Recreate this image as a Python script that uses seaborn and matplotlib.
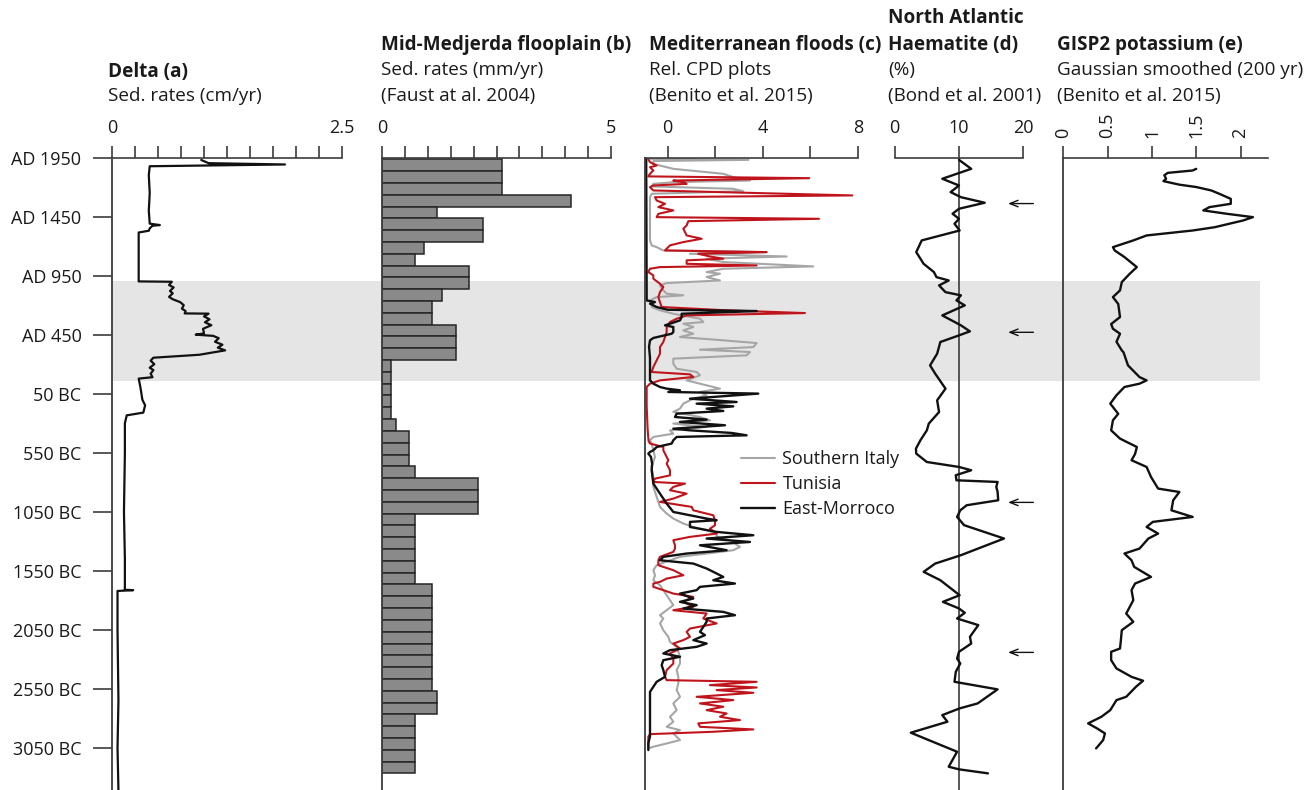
import numpy as np
import pandas as pd
import matplotlib
matplotlib.use("Agg")
import matplotlib.pyplot as plt
import seaborn as sns

sns.set_style("ticks")
plt.rcParams["font.family"] = ["Open Sans", "DejaVu Sans"]
plt.rcParams["font.size"] = 13
plt.rcParams["text.color"] = "#1a1a1a"
plt.rcParams["xtick.color"] = "#1a1a1a"
plt.rcParams["ytick.color"] = "#1a1a1a"

# ---------------------------------------------------------------------------
# Shared age axis (years before AD 1950)
age_ticks = [0, 500, 1000, 1500, 2000, 2500, 3000, 3500, 4000, 4500, 5000]
age_labels = ["AD 1950", "AD 1450", "AD 950", "AD 450", "50 BC", "550 BC",
              "1050 BC", "1550 BC", "2050 BC", "2550 BC", "3050 BC"]
age_max = 5355
band_ages = (1045, 1890)

# (a) Delta sedimentation rates (cm/yr)
delta_age = [21, 48, 59, 74, 150, 300, 450, 560, 572, 578, 600, 620, 635, 800,
             1049, 1052, 1080, 1100, 1130, 1150, 1180, 1200, 1224, 1250, 1280,
             1300, 1320, 1322, 1345, 1370, 1395, 1420, 1450, 1490, 1500, 1510,
             1530, 1560, 1585, 1610, 1633, 1650, 1670, 1695, 1720, 1750, 1780,
             1800, 1830, 1860, 1872, 1950, 2050, 2098, 2160, 2183, 2250, 2500,
             3000, 3400, 3660, 3663, 3670, 4000, 4600, 5000, 5355]
delta_rate = [0.97, 1.05, 1.88, 0.41, 0.40, 0.41, 0.40, 0.41, 0.52, 0.44, 0.41,
              0.40, 0.29, 0.29, 0.29, 0.65, 0.62, 0.67, 0.63, 0.66, 0.62, 0.66,
              0.74, 0.78, 0.76, 0.80, 0.79, 1.05, 1.00, 1.06, 1.01, 1.08, 0.99,
              1.00, 0.91, 1.10, 1.16, 1.12, 1.20, 1.15, 1.23, 1.10, 0.95, 0.45,
              0.42, 0.46, 0.41, 0.45, 0.42, 0.44, 0.29, 0.31, 0.33, 0.36, 0.34,
              0.16, 0.14, 0.14, 0.13, 0.14, 0.14, 0.23, 0.06, 0.06, 0.07, 0.06,
              0.07]

# (b) Mid-Medjerda floodplain sedimentation rates (mm/yr), 100-yr bins
medjerda_age = np.arange(65, 5265, 100)
medjerda_rate = [2.61, 2.61, 2.61, 4.13, 1.20, 2.20, 2.20, 0.91, 0.71, 1.91,
                 1.91, 1.30, 1.09, 1.09, 1.61, 1.61, 1.61, 0.19, 0.19, 0.19,
                 0.19, 0.19, 0.31, 0.60, 0.60, 0.60, 0.71, 2.10, 2.10, 2.10,
                 0.71, 0.71, 0.71, 0.71, 0.71, 0.71, 1.09, 1.09, 1.09, 1.09,
                 1.09, 1.09, 1.09, 1.09, 1.09, 1.19, 1.19, 0.71, 0.71, 0.71,
                 0.71, 0.71]

# (c) Mediterranean floods, relative CPD
italy_age = [11, 20, 30, 54, 96, 138, 166, 195, 209, 223, 245, 265, 285, 307,
             336, 500, 700, 744, 759, 787, 801, 815, 838, 857, 885, 922, 942,
             970, 984, 1012, 1041, 1063, 1083, 1125, 1153, 1167, 1182, 1210,
             1238, 1266, 1294, 1323, 1365, 1393, 1407, 1435, 1464, 1492, 1520,
             1548, 1571, 1605, 1627, 1647, 1675, 1703, 1746, 1788, 1816, 1844,
             1887, 1929, 1957, 1985, 2013, 2042, 2084, 2126, 2154, 2197, 2225,
             2253, 2281, 2310, 2338, 2366, 2394, 2422, 2479, 2535, 2620, 2705,
             2789, 2874, 2958, 3015, 3057, 3099, 3128, 3156, 3184, 3212, 3240,
             3297, 3325, 3353, 3381, 3410, 3452, 3494, 3537, 3579, 3621, 3663,
             3706, 3748, 3790, 3833, 3875, 3903, 3945, 4002, 4058, 4101, 4143,
             4185, 4227, 4284, 4340, 4397, 4453, 4509, 4566, 4622, 4679, 4735,
             4777, 4820, 4848, 4876, 4904, 4932, 4961, 4989, 5003]
italy_cpd = [-0.85, 3.40, -0.60, -0.60, 0.24, 2.34, 2.76, 3.46, 0.24, -0.60,
             -0.67, 2.76, 3.18, -0.67, -0.74, -0.74, -0.74, -0.67, -0.46, -0.18,
             4.16, 0.94, 5.00, 1.64, 2.34, 6.12, 2.34, 1.64, 2.20, 1.64, 2.20,
             -0.04, -0.32, -0.18, -0.04, 0.66, -0.46, -0.74, -0.60, -0.67,
             -0.32, 0.24, 1.36, 1.50, 0.66, 1.08, 0.66, 1.08, 0.52, 2.34, 3.74,
             3.60, 1.36, 3.46, 3.32, 0.24, 0.24, 0.38, 1.22, 1.36, 0.80, 1.64,
             2.20, 1.36, 1.64, 1.08, 0.66, 0.52, 0.24, 1.36, 1.78, 0.24, 1.64,
             0.10, 0.24, -0.60, -0.74, -0.67, -0.60, -0.53, -0.67, -0.60, -0.60,
             -0.46, -0.32, -0.04, 0.24, 0.66, 1.08, 1.64, 2.06, 2.06, 2.62,
             3.04, 2.76, 1.64, 0.52, 0.10, -0.46, -0.60, -0.53, -0.60, -0.32,
             -0.18, -0.04, 0.10, 0.24, -0.04, -0.32, -0.18, -0.32, -0.18, 0.03,
             0.10, 0.38, 0.45, 0.52, 0.52, 0.38, 0.45, 0.45, 0.38, 0.52, 0.24,
             0.38, 0.10, 0.24, -0.04, 0.52, 0.24, 0.38, 0.52, -0.04, -0.60,
             -0.81]

tunisia_age = [20, 39, 68, 82, 110, 138, 160, 175, 195, 209, 223, 237, 251, 279,
               321, 336, 364, 392, 420, 448, 477, 505, 519, 539, 575, 603, 632,
               660, 688, 716, 744, 773, 787, 801, 815, 838, 857, 871, 900, 914,
               928, 942, 970, 998, 1026, 1069, 1097, 1139, 1182, 1224, 1266,
               1294, 1317, 1337, 1365, 1393, 1435, 1478, 1520, 1562, 1605, 1661,
               1717, 1774, 1816, 1836, 1858, 1887, 1915, 1943, 2000, 2100, 2200,
               2300, 2400, 2422, 2451, 2479, 2563, 2592, 2648, 2691, 2719, 2747,
               2761, 2789, 2817, 2846, 2888, 2916, 2958, 2987, 3029, 3071, 3114,
               3142, 3184, 3212, 3240, 3283, 3311, 3339, 3381, 3410, 3452, 3494,
               3537, 3565, 3593, 3607, 3635, 3663, 3692, 3720, 3762, 3804, 3833,
               3861, 3903, 3945, 3988, 4016, 4058, 4086, 4115, 4157, 4199, 4242,
               4284, 4340, 4397, 4425, 4439, 4467, 4487, 4509, 4532, 4566, 4594,
               4622, 4650, 4679, 4707, 4735, 4763, 4791, 4820, 4842, 4862, 4882,
               4904, 4989]
tunisia_cpd = [-0.80, -0.74, -0.46, -0.74, -0.60, -0.74, -0.81, 5.95, 0.24,
               0.66, 0.80, -0.60, -0.74, -0.60, 7.76, -0.53, -0.46, -0.11, -0.39,
               0.24, -0.39, -0.46, 6.36, 0.87, 0.80, 0.66, 0.73, 0.80, 1.43,
               0.66, 0.10, -0.04, -0.11, 4.16, 1.29, 1.78, 2.34, 0.80, 0.80, 3.74,
               -0.32, -0.74, -0.81, -0.60, -0.60, -0.32, -0.18, -0.32, -0.39,
               -0.32, -0.25, 2.48, 5.77, 0.80, 0.38, 0.10, -0.04, -0.04, -0.11,
               -0.18, -0.32, -0.32, -0.46, -0.60, -0.67, 0.94, 1.08, -0.32, -0.74,
               -0.88, -0.88, -0.88, -0.86, -0.84, -0.80, -0.74, -0.18, -0.18,
               0.03, -0.04, 0.10, 0.10, -0.53, -0.60, 0.73, 0.24, 0.10, 0.80,
               0.24, -0.32, 1.01, 1.08, 1.92, 1.99, 1.99, 1.78, 2.06, 0.94, 0.24,
               0.31, 0.31, 0.24, -0.32, -0.39, -0.39, 0.24, 0.66, -0.04, -0.32,
               -0.60, -0.60, -0.18, 0.24, 1.08, 0.66, 1.08, 0.24, 1.64, 1.50,
               2.06, 0.94, 0.80, 0.94, 0.66, 0.24, 0.52, 0.10, 0.24, 0.24, -0.04,
               -0.11, -0.04, 3.74, 1.78, 3.74, 2.06, 3.60, 1.22, 2.76, 1.36,
               2.34, 1.64, 2.48, 2.20, 3.04, 1.29, 1.36, 3.60, 1.92, -0.74,
               -0.81, -0.81]

morocco_age = [0, 1210, 1224, 1238, 1266, 1289, 1300, 1323, 1351, 1379, 1421,
               1435, 1478, 1492, 1528, 1548, 1600, 1700, 1887, 1915, 1943, 1957,
               1971, 1985, 1999, 2042, 2070, 2084, 2107, 2126, 2146, 2169, 2197,
               2219, 2239, 2267, 2296, 2310, 2332, 2352, 2366, 2394, 2422, 2451,
               2479, 2493, 2507, 2535, 2592, 2648, 2761, 2846, 2930, 3001, 3029,
               3057, 3071, 3085, 3128, 3170, 3198, 3226, 3255, 3283, 3325, 3353,
               3381, 3410, 3438, 3480, 3522, 3551, 3579, 3607, 3635, 3663, 3692,
               3734, 3762, 3790, 3819, 3847, 3875, 3903, 3931, 3974, 4016, 4044,
               4086, 4115, 4143, 4171, 4199, 4227, 4256, 4298, 4340, 4397, 4439,
               4481, 4524, 4700, 4900, 4961, 5017]
morocco_cpd = [-0.90, -0.88, -0.53, -0.74, -0.46, 0.00, 3.74, 0.59, 0.59, 0.52,
               -0.11, 0.24, 0.24, 0.17, -0.60, -0.74, -0.78, -0.74, -0.74, -0.60,
               -0.32, -0.04, 0.52, 0.03, 3.81, 0.94, 2.90, 1.22, 2.76, 1.64, 2.34,
               0.38, 0.31, 1.64, 0.52, 2.41, 0.24, 0.94, 2.69, 3.32, 0.38, 0.24,
               0.17, -0.46, -0.60, -0.74, -0.81, -0.70, -0.65, -0.67, -0.60,
               -0.32, -0.04, 0.24, 0.94, 1.64, 2.06, 0.94, 0.94, 2.06, 3.60, 1.64,
               3.46, 1.36, 2.48, 0.80, -0.18, -0.32, 1.08, 1.64, 2.06, 2.34, 1.92,
               2.83, 1.36, 1.22, 0.52, 1.08, 0.52, 1.22, 0.66, 2.34, 2.83, 1.64,
               1.64, 1.50, 1.36, 1.57, 1.08, 1.64, 1.22, 0.10, -0.18, 0.52, -0.18,
               -0.25, -0.18, -0.11, -0.46, -0.60, -0.74, -0.74, -0.74, -0.81,
               -0.81]

# (d) North Atlantic haematite-stained grains (%)
haem_age = [20, 96, 180, 237, 293, 336, 383, 434, 476, 519, 561, 618, 702, 801,
            900, 970, 1013, 1041, 1083, 1140, 1167, 1210, 1252, 1337, 1421,
            1472, 1506, 1562, 1661, 1760, 1830, 1957, 2056, 2155, 2253, 2310,
            2394, 2465, 2507, 2578, 2620, 2648, 2690, 2733, 2747, 2789, 2830,
            2902, 2944, 2987, 3043, 3113, 3226, 3367, 3438, 3508, 3579, 3706,
            3762, 3818, 3855, 3903, 3959, 4058, 4115, 4185, 4242, 4284, 4354,
            4439, 4503, 4622, 4664, 4721, 4777, 4870, 5031, 5158, 5180, 5214]
haem_pct = [10.0, 11.9, 7.4, 10.0, 8.7, 10.3, 14.0, 10.0, 9.0, 10.0, 9.3, 10.1,
            4.2, 3.35, 4.5, 6.1, 6.5, 8.4, 6.9, 7.9, 10.3, 9.6, 10.9, 7.4, 10.3,
            11.7, 10.0, 7.1, 6.6, 5.5, 6.3, 7.9, 6.6, 6.9, 5.3, 5.0, 4.0, 3.3,
            3.35, 5.0, 10.0, 11.9, 9.5, 9.6, 16.0, 15.8, 16.0, 16.1, 11.2, 10.2,
            9.7, 10.8, 17.0, 10.3, 6.3, 4.5, 7.1, 10.1, 7.5, 10.0, 10.9, 9.7,
            13.0, 11.7, 11.9, 10.0, 9.7, 10.2, 9.5, 9.3, 16.0, 12.9, 10.1, 7.4,
            8.2, 2.5, 9.7, 8.4, 10.0, 14.5]
bond_events = [390, 1480, 2920, 4190]

# (e) GISP2 potassium, Gaussian smoothed
gisp_age = [96, 110, 130, 150, 180, 200, 230, 250, 279, 307, 350, 392, 420, 448,
            476, 505, 533, 590, 618, 660, 702, 759, 787, 843, 928, 984, 1055,
            1125, 1182, 1240, 1351, 1410, 1450, 1492, 1560, 1633, 1650, 1760,
            1859, 1887, 1915, 1943, 2013, 2084, 2170, 2225, 2310, 2380, 2451,
            2510, 2563, 2620, 2705, 2803, 2832, 2902, 2987, 3043, 3085, 3128,
            3184, 3226, 3311, 3353, 3410, 3466, 3551, 3607, 3663, 3748, 3861,
            3931, 4002, 4086, 4157, 4185, 4256, 4326, 4397, 4430, 4481, 4566,
            4594, 4679, 4735, 4791, 4833, 4876, 4932, 5003]
gisp_k = [1.50, 1.46, 1.18, 1.14, 1.16, 1.13, 1.31, 1.50, 1.67, 1.76, 1.89,
          1.89, 1.65, 1.58, 1.84, 2.14, 2.03, 1.71, 1.46, 0.94, 0.79, 0.56,
          0.58, 0.69, 0.83, 0.75, 0.66, 0.64, 0.56, 0.62, 0.64, 0.54, 0.56,
          0.64, 0.60, 0.66, 0.68, 0.73, 0.86, 0.94, 0.86, 0.69, 0.60, 0.53,
          0.62, 0.56, 0.54, 0.64, 0.83, 0.81, 0.77, 0.94, 0.99, 1.07, 1.31,
          1.24, 1.22, 1.46, 1.01, 0.94, 1.07, 0.96, 0.86, 0.69, 0.77, 0.80,
          0.99, 0.81, 0.77, 0.79, 0.71, 0.79, 0.66, 0.65, 0.64, 0.54, 0.54,
          0.60, 0.77, 0.90, 0.82, 0.71, 0.60, 0.53, 0.43, 0.28, 0.38, 0.47,
          0.45, 0.37]

# ---------------------------------------------------------------------------
W, H = 1306, 790
fig = plt.figure(figsize=(W / 100, H / 100), dpi=100)

top_px = 157.5
ax_h = (H - top_px) / H


def px_axes(x0, x1, zorder=2):
    ax = fig.add_axes([x0 / W, 0.0, (x1 - x0) / W, ax_h])
    ax.set_zorder(zorder)
    ax.patch.set_alpha(0)
    return ax


spine_c = "#3c3c3c"
line_c = "#111111"
red_c = "#c0141c"
grey_c = "#a6a6a6"

# background band spanning all panels
bg = px_axes(112, 1260, zorder=0)
bg.set_ylim(age_max, 0)
bg.axhspan(*band_ages, color="#e5e5e5", lw=0)
bg.axis("off")


def style(ax, xlim, ticks, labels, left=True):
    ax.set_ylim(age_max, 0)
    ax.set_xlim(*xlim)
    ax.xaxis.set_ticks_position("top")
    ax.xaxis.set_label_position("top")
    ax.set_xticks(ticks)
    ax.set_xticklabels(labels)
    ax.tick_params(axis="x", direction="out", length=9, width=1.2,
                   color=spine_c, pad=6, labelsize=13)
    for s in ["right", "bottom"]:
        ax.spines[s].set_visible(False)
    ax.spines["top"].set_color(spine_c)
    ax.spines["top"].set_linewidth(1.2)
    ax.spines["left"].set_visible(left)
    ax.spines["left"].set_color(spine_c)
    ax.spines["left"].set_linewidth(1.3)
    ax.set_xlabel("")
    ax.set_ylabel("")
    ax.set_yticks([])


# (a) Delta
ax_a = px_axes(112, 342)
sns.lineplot(x=delta_rate, y=delta_age, sort=False, estimator=None,
             color=line_c, lw=1.6, ax=ax_a)
ticks_a = [i * 0.25 for i in range(11)]
style(ax_a, (0, 2.5), ticks_a, ["0"] + [""] * 9 + ["2.5"])
ax_a.set_yticks(age_ticks)
ax_a.set_yticklabels(age_labels)
ax_a.tick_params(axis="y", direction="out", length=14, width=1.2,
                 color=spine_c, pad=8, labelsize=13)

# (b) Mid-Medjerda floodplain
ax_b = px_axes(382, 611)
medj = pd.DataFrame({"age": medjerda_age, "rate": medjerda_rate})
sns.barplot(data=medj, x="rate", y="age", orient="y", native_scale=True,
            width=1.0, color="#8a8a8a", saturation=1, edgecolor="#262626",
            linewidth=1.1, errorbar=None, ax=ax_b)
style(ax_b, (0, 5), [i * 0.5 for i in range(11)],
      ["0"] + [""] * 9 + ["5"])

# (c) Mediterranean floods
ax_c = px_axes(645, 858)
sns.lineplot(x=italy_cpd, y=italy_age, sort=False, estimator=None,
             color=grey_c, lw=1.5, ax=ax_c, label="Southern Italy")
sns.lineplot(x=tunisia_cpd, y=tunisia_age, sort=False, estimator=None,
             color=red_c, lw=1.5, ax=ax_c, label="Tunisia")
sns.lineplot(x=morocco_cpd, y=morocco_age, sort=False, estimator=None,
             color=line_c, lw=1.7, ax=ax_c, label="East-Morroco")
style(ax_c, (-0.95, 8), [0, 2, 4, 6, 8], ["0", "", "4", "", "8"])
ax_c.legend(loc="upper left", bbox_to_anchor=(0.45, 0.537), frameon=False,
            fontsize=13, handlelength=1.9, handletextpad=0.4,
            labelspacing=0.38, borderpad=0, borderaxespad=0)

# (d) North Atlantic haematite
ax_d = px_axes(894.7, 1023.3)
ax_d.axvline(10, color=spine_c, lw=1.2)
sns.lineplot(x=haem_pct, y=haem_age, sort=False, estimator=None,
             color=line_c, lw=1.7, ax=ax_d)
style(ax_d, (0, 20), [0, 10, 20], ["0", "10", "20"], left=False)
for ev in bond_events:
    ax_d.annotate("", xy=(17.2, ev), xytext=(22.0, ev),
                  arrowprops=dict(arrowstyle="->,head_length=0.45,head_width=0.18",
                                  color=line_c, lw=1.0),
                  annotation_clip=False)

# (e) GISP2 potassium
ax_e = px_axes(1063.3, 1268)
sns.lineplot(x=gisp_k, y=gisp_age, sort=False, estimator=None,
             color=line_c, lw=1.7, ax=ax_e)
style(ax_e, (0, 2.31), [0, 0.5, 1, 1.5, 2], ["0", "0.5", "1", "1.5", "2"])
ax_e.tick_params(axis="x", labelrotation=90, pad=5)

# panel headers
def header(x, lines):
    for y, txt, bold in lines:
        fig.text(x / W, 1 - y / H, txt, ha="left", va="center", fontsize=13.6,
                 fontweight="bold" if bold else "normal")


header(108, [(72, "Delta (a)", True), (96, "Sed. rates (cm/yr)", False)])
header(381, [(45, "Mid-Medjerda flooplain (b)", True),
             (70, "Sed. rates (mm/yr)", False),
             (96, "(Faust at al. 2004)", False)])
header(649, [(45, "Mediterranean floods (c)", True),
             (70, "Rel. CPD plots", False),
             (96, "(Benito et al. 2015)", False)])
header(888, [(18, "North Atlantic", True), (45, "Haematite (d)", True),
             (70, "(%)", False), (96, "(Bond et al. 2001)", False)])
header(1057, [(45, "GISP2 potassium (e)", True),
              (70, "Gaussian smoothed (200 yr)", False),
              (96, "(Benito et al. 2015)", False)])

fig.savefig("out.png", dpi=100)
